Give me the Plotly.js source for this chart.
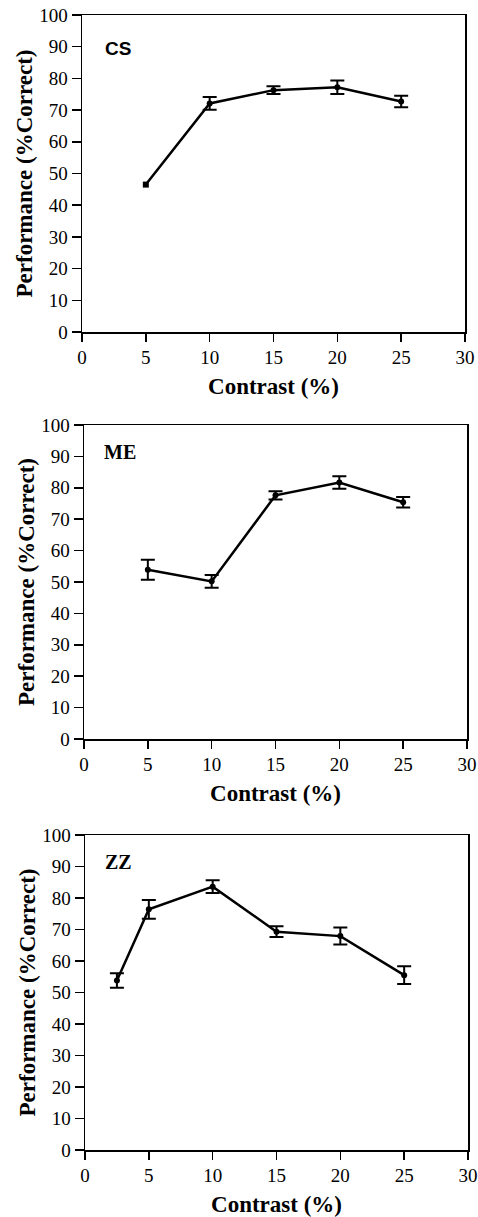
<!DOCTYPE html>
<html>
<head>
<meta charset="utf-8">
<script src="https://cdn.plot.ly/plotly-3.0.1.min.js"></script>
<style>html,body{margin:0;padding:0;background:#fff;}#chart{width:478px;height:1217px;}</style>
</head>
<body>
<div id="chart"></div>
<script>
// Data
const panelLabels = ["CS", "ME", "ZZ"];
const csContrast = [5, 10, 15, 20, 25];
const csPerf = [46.5, 72.1, 76.3, 77.2, 72.7];
const csErr = [NaN, 2.0, 1.2, 2.1, 1.8];

const meContrast = [5, 10, 15, 20, 25];
const mePerf = [53.9, 50.2, 77.6, 81.7, 75.4];
const meErr = [3.2, 2.0, 1.3, 2.0, 1.7];

const zzContrast = [2.5, 5, 10, 15, 20, 25];
const zzPerf = [53.8, 76.4, 83.6, 69.3, 67.9, 55.5];
const zzErr = [2.3, 3.0, 2.0, 1.7, 2.7, 2.8];

const xTicks = [0, 5, 10, 15, 20, 25, 30];
const yTicks = [0, 10, 20, 30, 40, 50, 60, 70, 80, 90, 100];

const W = 478, H = 1217;
// panel boxes in pixels: [left, right, top, bottom]
const boxes = [
  [82, 465, 15, 332],
  [84, 467, 425, 739],
  [85, 468, 835, 1150]
];
const labelPos = [[103, 48], [102, 452], [103, 862]];
const labelFonts = ["Liberation Sans", "Liberation Serif", "Liberation Serif"];
const labelSizes = [19, 20, 20];

function mk(x, y, e, i, symbols) {
  return {
    x: x, y: y, type: 'scatter', mode: 'lines+markers',
    xaxis: i === 0 ? 'x' : 'x' + (i + 1),
    yaxis: i === 0 ? 'y' : 'y' + (i + 1),
    line: {color: '#000', width: 2.5},
    marker: {color: '#000', size: 6, symbol: symbols},
    error_y: {type: 'data', array: e, visible: true, color: '#000', thickness: 2, width: 7},
    showlegend: false, hoverinfo: 'x+y'
  };
}

const data = [
  mk(csContrast, csPerf, csErr, 0, ['square', 'circle', 'circle', 'circle', 'circle']),
  mk(meContrast, mePerf, meErr, 1, 'circle'),
  mk(zzContrast, zzPerf, zzErr, 2, 'circle')
];

const serif = 'Liberation Serif';
const layout = {
  width: W, height: H,
  margin: {l: 0, r: 0, t: 0, b: 0},
  paper_bgcolor: '#fff', plot_bgcolor: '#fff',
  showlegend: false,
  annotations: []
};

boxes.forEach((b, i) => {
  const xa = i === 0 ? 'xaxis' : 'xaxis' + (i + 1);
  const ya = i === 0 ? 'yaxis' : 'yaxis' + (i + 1);
  const anchorX = i === 0 ? 'y' : 'y' + (i + 1);
  const anchorY = i === 0 ? 'x' : 'x' + (i + 1);
  layout[xa] = {
    domain: [b[0] / W, b[1] / W], anchor: anchorX,
    range: [0, 30], tickvals: xTicks, ticktext: xTicks.map(String),
    ticks: 'outside', ticklen: 8, tickwidth: 1.5, tickcolor: '#000',
    showline: true, mirror: true, linecolor: '#000', linewidth: 1.5,
    showgrid: false, zeroline: false,
    tickfont: {family: serif, size: 19, color: '#000'},
    title: {text: '<b>Contrast (%)</b>', font: {family: serif, size: 23, color: '#000'}, standoff: 10}
  };
  layout[ya] = {
    domain: [1 - b[3] / H, 1 - b[2] / H], anchor: anchorY,
    range: [0, 100], tickvals: yTicks, ticktext: yTicks.map(String),
    ticks: 'outside', ticklen: 9, tickwidth: 1.5, tickcolor: '#000',
    showline: true, mirror: true, linecolor: '#000', linewidth: 1.5,
    showgrid: false, zeroline: false,
    tickfont: {family: serif, size: 19, color: '#000'},
    title: {text: '<b>Performance (%Correct)</b>', font: {family: serif, size: 23, color: '#000'}, standoff: 0}
  };
  layout.annotations.push({
    text: '<b>' + panelLabels[i] + '</b>', xref: 'paper', yref: 'paper',
    x: labelPos[i][0] / W, y: 1 - labelPos[i][1] / H, xanchor: 'left', yanchor: 'middle',
    showarrow: false, font: {family: labelFonts[i], size: labelSizes[i], color: '#000'}
  });
});

Plotly.newPlot('chart', data, layout, {staticPlot: true});
</script>
</body>
</html>
